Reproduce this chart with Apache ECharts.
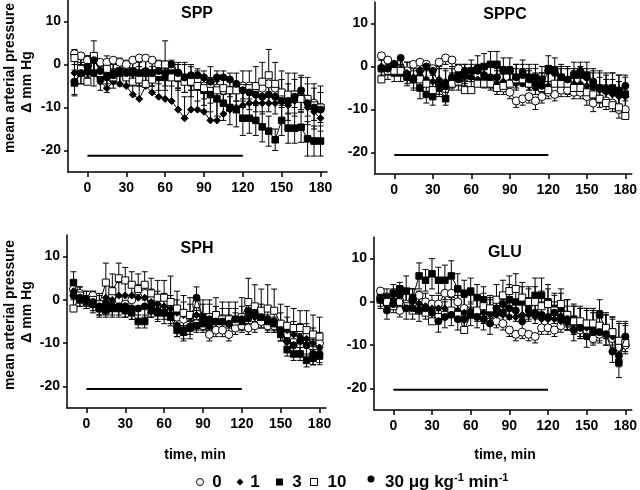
<!DOCTYPE html>
<html><head><meta charset="utf-8">
<script src="https://cdn.jsdelivr.net/npm/echarts@6/dist/echarts.min.js"></script>
<style>html,body{margin:0;padding:0;background:#fff}#c{width:640px;height:490px}</style>
</head><body><div id="c"></div>
<script>
// ---------- data ----------
const times = [-10,-5,0,5,10,15,20,25,30,35,40,45,50,55,60,65,70,75,80,85,90,95,100,105,110,115,120,125,130,135,140,145,150,155,160,165,170,175,180];
const xTicks = [0,30,60,90,120,150,180];
const yTicks = [-20,-10,0,10];
const doses = ['0','1','3','10','30'];
const panelTitles = ['SPP','SPPC','SPH','GLU'];
const infusionStart = 0, infusionEnd = 120;
const infusionLevel = [-21.2,-20.6,-20.6,-20.3];

// SPP
const spp_0 = [2.5,2,1,1.5,0.5,0.5,1,0.5,0,1,1.5,1.5,1,0,0,-1,-2,-3.5,-3,-3.5,-5,-5.5,-5.5,-6,-6,-5.5,-5,-5,-5.5,-5.5,-4.5,-5.5,-7,-8,-7,-7.5,-8.5,-9,-10];
const spp_1 = [-2,-2,-2,-2,-4,-5.5,-4,-4.5,-5,-7,-8,-5,-6.5,-7.5,-8,-8.5,-10.5,-12.5,-10.5,-10.5,-11,-13,-13,-11.5,-10.5,-10,-9.5,-9,-9,-9,-9,-9,-8.5,-9.5,-8.5,-7.5,-10,-11,-12.5];
const spp_3 = [-4.3,-2,-1,-2,-3,-2,-2,-1.5,-2,-1.5,-2,-2,-2,-3,-3,-2,-3,-3,-4,-5,-6,-7,-8,-9,-10,-10.5,-12.5,-12.5,-13,-14.5,-15.5,-17.5,-13,-14.8,-14.8,-14.6,-17.3,-17.8,-17.8];
const spp_10 = [1.5,-1,-4,2,-2,-1,-3,-2,-3,-4,-3.5,-4.5,-3.5,-2,0,-3,-3,-4,-4,-5,-5.5,-4.5,-6,-5.5,-6,-6,-5.5,-5.5,-5,-4,-2.5,-4.5,-6.5,-7,-7,-8,-8,-9.5,-10];
const spp_30 = [-4,-2,-0.5,1,-1.5,-3,-2.5,-2,-2,-2,-2,-1.5,-2,-1.5,-2,0,-2,-3,-2.5,-2.5,-3,-4,-3,-3,-3.5,-4.5,-6,-6.5,-7,-7.5,-7,-7.5,-8.5,-8.5,-7.5,-6,-9,-10,-10.5];
const spp_0_err = [2.5,2,2.5,3,2,2.5,2,3,2.5,2,2,2.5,3,2.5,3,2.5,2,3,3,2.5,3,3.5,3,3,3.5,3,3,3,3.5,3.5,3,3.5,3,3.5,3,3.5,3.5,4,3.5];
const spp_1_err = [3,3.5,4,4,3.5,3.5,4,3.5,4,4.5,4.5,4,4.5,5,5.5,5,5,5,5.5,5,5.5,6,5.5,5,5,5,5,4.5,4.5,4.5,5,5,5,5,5,5,5.5,5.5,6];
const spp_3_err = [3,2.5,3,3,3,2.5,2.5,3,3,3,3,3,3,3,3,3,3,3.5,3.5,3.5,3.5,4,4,4,4,4,4,3.5,3.5,3.5,3.5,2.5,3.5,3.5,3.5,3.5,4,3.5,3.5];
const spp_10_err = [2,3,3,3.5,3,3,3.5,3,3,3,4,3.5,3,3,5.5,3.5,3.5,4,4,4,4,4,4.5,4,4,4,4,4,4.5,4.5,6,5,5,5,5,5,5,5,5];
const spp_30_err = [3,2.5,2.5,3,3,3.5,3,3,3,3,3,3,3,3,3,3.5,3.5,3.5,3.5,3.5,3.5,3.5,3.5,4,4,4,4,4,4,4,4,4,4.5,4.5,4.5,4.5,5,5,5];

// SPPC
const sppc_0 = [2.5,1.5,0.5,-0.5,-1,0.5,1,0.5,-0.5,1,2,1.5,-0.5,-2.5,-1.5,-2,-3.5,-4,-5,-5,-6,-8,-7.5,-7,-8,-7,-6,-6.5,-5.5,-5.5,-6,-6,-7,-8.5,-7.5,-8,-8.5,-10,-10];
const sppc_1 = [0,-1,-1,-0.5,-1.5,-2.5,-2,-3,-3.5,-3,-3.5,-3,-2.5,-2.5,-2.5,-3,-3,-3.5,-4,-3.5,-3.5,-4,-4,-4.5,-5,-5,-4.5,-4,-4,-4,-4,-4,-4.5,-5,-5.5,-6,-6.5,-7,-7];
const sppc_3 = [-0.5,-1,-1.5,-1.5,-2.5,-3,-5,-6.5,-7,-5,-7.5,-3.5,-2,-2,-1,-0.5,0,0.5,0.5,-1,-1,-2.5,-1.5,-2.5,-2.5,-3,-0.5,-1,-2.5,-3.5,-2,-2,-2,-4,-5,-5.5,-5,-6,-6.5];
const sppc_10 = [-3,-1,-1,-1,-2,-3,-3,-4,-5.5,-4,-4.5,-4,-3.5,-5.5,-5.5,-4,-4,-4,-5,-4.5,-4,-3,-3,-4,-4,-5,-5.5,-4,-4,-4,-5,-5,-6,-6.5,-7.5,-8.5,-9,-9.5,-11.5];
const sppc_30 = [-0.5,-0.5,0.5,2,-2,-3,-1,0,-1,-4,-4.5,-2.5,-3,-1,-1,-1,-2,-2.5,-2.5,-1,-1,-2.5,-2,-3,-4,-4.5,-1,-1.5,-2.5,-3,-2,-1,-2.5,-3.5,-5,-5,-5.5,-5.5,-4.5];
const sppc_0_err = [1,1,1,1.5,1.5,1.5,1.5,1.5,1.5,1.5,1.5,1.5,1.5,1.5,1.5,1.5,1.5,1.5,1.5,1.5,1.5,1.5,1.5,1.5,2,1.5,1.5,1.5,1.5,1.5,1.5,1.5,2,2,2,2,2,2,2];
const sppc_1_err = [2,2,2,2.5,2.5,3,3,3,3,3,3,3,3,3,3,3.5,3.5,3.5,3.5,3.5,3.5,3.5,3.5,3.5,3.5,3.5,3.5,3.5,3.5,3.5,3.5,4,4,4,4.5,4.5,5,5,5];
const sppc_3_err = [2,2,2,2,2,2.5,2.5,2,2,2,1.5,2,2.5,2.5,2.5,3,3,3,3,3,3,3,3,3,3,3,3,3,3,3,3,3,3,3.5,3.5,3.5,3.5,4,4];
const sppc_10_err = [2.5,2,2,2.5,3,4,4,4,3.5,3.5,3.5,3.5,3.5,3,3.5,3.5,4,4.5,4,4,3.5,3.5,3.5,3.5,3.5,3.5,4,4,4,4,4,4,4.5,5,5,5.5,6,6,6];
const sppc_30_err = [1.5,1.5,2,2,2,2,2.5,2.5,2.5,2.5,2.5,2.5,2.5,2.5,2.5,2.5,2.5,2.5,2.5,2.5,2.5,2.5,2.5,2.5,2.5,2.5,2.5,3,3,3,3,3,3,3,3,3,3.5,3.5,3.5];

// SPH
const sph_0 = [2.5,1.5,0,1,-2,-1,1,0,-1,0,2,1.5,0,-1.5,-2,-2.5,-4,-4.5,-4,-5.5,-6,-8,-7,-7,-8,-6.5,-6,-6.5,-6,-5,-6,-6,-7,-8,-7.5,-7,-8.5,-10,-10];
const sph_1 = [2,1,0,0,-1,0.5,0,1,1,1,0.5,0.5,-0.5,-1,-1.5,-2,-3,-3.5,-4,-3.5,-4,-4,-4.5,-5,-5,-5,-4.5,-4,-4,-4,-4.5,-5,-6,-7,-8,-8.5,-9,-10,-11];
const sph_3 = [4,0,-0.5,-1,-2,-2.5,-2,-2,-2.5,-3,-5,-5,-2.5,-3,-3,-4,-7,-7.5,-6.5,-6,-5.5,-6,-5,-5,-5,-4.5,-5,-4,-3.5,-4,-5,-5.5,-8,-11.5,-12.5,-12.5,-14,-13.5,-13];
const sph_10 = [-2,1,0,0,-1,4,2,5,4.5,3.5,2.5,3.5,1.5,0.5,0.5,-0.5,-2,-3,-3.5,-1,-4,-4,-3.5,-4.5,-4.5,-5,-4,-0.5,-1.5,-2.5,-2,-2.5,-5.5,-6,-6.5,-6.5,-7,-8,-8.5];
const sph_30 = [1,0.5,0,-0.5,-1.5,-1,-1.5,-1.5,-1.5,-2,-2,-1.5,-1.5,-2.5,-3,-3.5,-6,-7,-6.5,0.5,-4,-4.5,-5,-5,-5.5,-4.5,-4.5,-2.5,-3,-4,-4.5,-5,-7,-9.5,-10.5,-9.5,-10.5,-12.5,-12.5];
const sph_0_err = [1.5,1.5,1.5,1.5,1.5,1.5,1.5,1.5,1.5,1.5,1.5,1.5,1.5,1.5,1.5,1.5,1.5,1.5,1.5,1.5,1.5,1.5,1.5,1.5,1.5,1.5,1.5,1.5,1.5,1.5,1.5,1.5,1.5,1.5,1.5,1.5,1.5,1.5,1.5];
const sph_1_err = [2.5,2,2,2,2.5,3,3,3,3,3,3,3,3,3,3,3,3,3,3,3,3,3,3,3,3,3,3,3,3,3,3,3,3,3,3,3,3.5,3.5,3.5];
const sph_3_err = [2.5,1.5,1.5,1.5,1.5,1.5,1.5,1.5,1.5,1.5,1.5,1.5,1.5,1.5,1.5,1.5,1.5,1.5,1.5,1.5,1.5,1.5,1.5,1.5,1.5,1.5,1.5,1.5,1.5,1.5,1.5,1.5,1.5,1.5,1.5,1.5,1.5,1.5,1.5];
const sph_10_err = [2,2,2,2,2,4.5,4,3.5,3,3,3.5,3,3.5,4,4,6,4,4,4,4,4,4,4,4,4,4.5,4.5,5.5,5,5,5.5,5,4.5,4.5,4.5,4,4.5,4.5,4.5];
const sph_30_err = [2.5,2,2,2.5,2.5,2.5,2.5,2.5,2.5,2.5,2.5,2.5,2.5,2.5,2.5,2.5,2.5,2.5,2.5,3,2.5,2.5,2.5,2.5,2.5,2.5,2.5,2.5,2.5,2.5,2.5,2.5,2.5,2.5,2.5,2.5,2.5,2.5,2.5];

// GLU
const glu_0 = [2.5,1,0,-2,-0.5,0.5,1.5,0,-0.5,-0.5,2,2,0,-1.5,-2,-3,-3.5,-3,-4.5,-5,-6.5,-7.5,-7,-7.5,-8,-6,-6,-6.5,-5.5,-5,-6,-6.5,-7,-8.5,-7.5,-7,-8.5,-10.5,-10];
const glu_1 = [1,-0.5,0.5,0.5,-1,0,-0.5,-1,-1.5,-1.5,-1.5,-2,-2,-2.5,-2,-2,-2.5,-3,-3,-3,-3.5,-3.5,-3,-3,-3.5,-4,-4,-4,-4.5,-5,-5,-5.5,-6,-6.5,-6.5,-7,-8,-9,-9];
const glu_3 = [1,1,2,3,2.5,1,6,5,6.5,5,5,6,3,2,2.5,1,0.5,-2,-2,-2.5,0.5,0,0,-0.5,1.5,1.5,0,-1.5,-1.5,-3,-4,-5,-5,-5.5,-3,-6.5,-7,-14,-8.5];
const glu_10 = [0.5,0,-1,0,-1,-2,-2,-2.5,-4.5,-3.5,-3,-2,-3,-6.5,-3,-2,-1,-1.5,0.5,1.5,2.5,3,1,0,0,-1,-0.5,-2,-0.5,-3,-4.5,-4.5,-5,-5,-5.5,-6,-7,-9,-9.5];
const glu_30 = [0.5,-2,-0.5,1.5,-1.5,-1.5,-2,-1.5,-2.5,-4.5,-3.5,-3,-4,-4,-3,-3.5,-4,-5,-1.5,-0.5,-1.5,-2,-4.5,-2,-2.5,-3,-3.5,-2.5,-3.5,-4,-6.5,-6,-8,-7,-7,-7.5,-11.5,-12.5,-8];
const glu_0_err = [1,1,1.5,1.5,1.5,1.5,1.5,1.5,1.5,1.5,1.5,1.5,1.5,1.5,1.5,1.5,1.5,1.5,1.5,1.5,1.5,1.5,1.5,1.5,1.5,1.5,1.5,1.5,1.5,1.5,1.5,1.5,1.5,1.5,1.5,1.5,1.5,1.5,1.5];
const glu_1_err = [2,2,2.5,3,3,3,3,3,3,3,3,3,3.5,3.5,3.5,3.5,3.5,3.5,3.5,4,4,4,4,4,4,4,4,4,4,4,4,4,4,4,4,4,4,4.5,4.5];
const glu_3_err = [2,2,2,1.5,3.5,2,3,2.5,3.5,3,3.5,3.5,3.5,3,3,3,3,3,3,3,3.5,3.5,3.5,3.5,4,4,4,3.5,3.5,3.5,3.5,3.5,3.5,3.5,3.5,3.5,3.5,3.5,3.5];
const glu_10_err = [2,2,2.5,3,3,3,3,3,3,3,3,3,3,3,3,3,3,3,3.5,3.5,3.5,3.5,3.5,3.5,3.5,3.5,3.5,3.5,3.5,3.5,3.5,3.5,3.5,3.5,3.5,3.5,3.5,4,4];
const glu_30_err = [2,2,2,2.5,2.5,2.5,2.5,2.5,2.5,2.5,2.5,2.5,2.5,2.5,2.5,2.5,2.5,2.5,2.5,2.5,2.5,2.5,2.5,2.5,2.5,2.5,2.5,2.5,2.5,2.5,2.5,2.5,2.5,2.5,2.5,2.5,2.5,2.5,2.5];

const panelMeans = [
  [spp_0, spp_1, spp_3, spp_10, spp_30],
  [sppc_0, sppc_1, sppc_3, sppc_10, sppc_30],
  [sph_0, sph_1, sph_3, sph_10, sph_30],
  [glu_0, glu_1, glu_3, glu_10, glu_30]
];
const panelErrs = [
  [spp_0_err, spp_1_err, spp_3_err, spp_10_err, spp_30_err],
  [sppc_0_err, sppc_1_err, sppc_3_err, sppc_10_err, sppc_30_err],
  [sph_0_err, sph_1_err, sph_3_err, sph_10_err, sph_30_err],
  [glu_0_err, glu_1_err, glu_3_err, glu_10_err, glu_30_err]
];

// ---------- styles ----------
const FONT = 'Liberation Sans, Arial, sans-serif';
const symbolStyle = [
  {symbol:'circle', size:8, fill:'#fff'},
  {symbol:'diamond', size:7, fill:'#000'},
  {symbol:'rect', size:6.5, fill:'#000'},
  {symbol:'rect', size:7, fill:'#fff'},
  {symbol:'circle', size:7, fill:'#000'}
];
const errDir = [-1, 1, 0, 1, -1];
const grids = [
  {left:68, top:0, width:259, height:172},
  {left:375, top:2, width:262, height:172},
  {left:67, top:235, width:259, height:173},
  {left:374, top:237, width:261, height:173}
];

function errRender(dir){
  return function(params, api){
    const x = api.value(0), y = api.value(1), e = api.value(2);
    const lo = dir > 0 ? y : y - e;
    const hi = dir < 0 ? y : y + e;
    const p1 = api.coord([x, lo]), p2 = api.coord([x, hi]);
    const c = 3;
    const st = {stroke:'#000', lineWidth:1};
    const ch = [{type:'line', shape:{x1:p1[0], y1:p1[1], x2:p2[0], y2:p2[1]}, style:st}];
    if (dir >= 0) ch.push({type:'line', shape:{x1:p2[0]-c, y1:p2[1], x2:p2[0]+c, y2:p2[1]}, style:st});
    if (dir <= 0) ch.push({type:'line', shape:{x1:p1[0]-c, y1:p1[1], x2:p1[0]+c, y2:p1[1]}, style:st});
    return {type:'group', children:ch};
  };
}

const xAxes = [], yAxes = [], series = [];
grids.forEach((g, i) => {
  xAxes.push({
    type:'value', gridIndex:i, min:-15, max:185,
    axisLine:{show:true, onZero:false, lineStyle:{color:'#000', width:1.5}},
    axisTick:{show:true, customValues:xTicks, length:5, lineStyle:{color:'#000', width:1.5}},
    axisLabel:{customValues:xTicks, color:'#000', fontFamily:FONT, fontWeight:'bold', fontSize:14, margin:9},
    splitLine:{show:false}
  });
  yAxes.push({
    type:'value', gridIndex:i, min:-25, max:15,
    axisLine:{show:true, onZero:false, lineStyle:{color:'#000', width:1.5}},
    axisTick:{show:true, customValues:yTicks, length:4, lineStyle:{color:'#000', width:1.5}},
    axisLabel:{customValues:yTicks, color:'#000', fontFamily:FONT, fontWeight:'bold', fontSize:14, margin:7},
    splitLine:{show:false}
  });
  // infusion bar
  series.push({
    type:'line', xAxisIndex:i, yAxisIndex:i, silent:true, symbol:'none',
    data:[[infusionStart, infusionLevel[i]], [infusionEnd, infusionLevel[i]]],
    lineStyle:{color:'#000', width:2}, z:1
  });
  panelMeans[i].forEach((arr, k) => {
    const s = symbolStyle[k];
    series.push({
      type:'custom', xAxisIndex:i, yAxisIndex:i, silent:true,
      renderItem: errRender(errDir[k]),
      data: times.map((t, j) => [t, arr[j], panelErrs[i][k][j]]),
      z:2
    });
    series.push({
      name: doses[k], type:'line', xAxisIndex:i, yAxisIndex:i, silent:true,
      data: times.map((t, j) => [t, arr[j]]),
      symbol:s.symbol, symbolSize:s.size, showAllSymbol:true,
      lineStyle:{color:'#000', width:1},
      itemStyle:{color:s.fill, borderColor:'#000', borderWidth:1, opacity:1},
      z:3 + k
    });
  });
});

const titlePos = [[197,14],[505,15],[197,249],[505,253]];
const graphic = [];
panelTitles.forEach((t, i) => {
  graphic.push({type:'text', x:titlePos[i][0], y:titlePos[i][1],
    style:{text:t, font:'bold 16px ' + FONT, fill:'#000', align:'center', verticalAlign:'middle'}});
});
[[78, 10, 'mean arterial pressure'],[82, 27, 'Δ mm Hg'],[315, 10, 'mean arterial pressure'],[312, 27, 'Δ mm Hg']].forEach(a => {
  graphic.push({type:'text', x:a[1], y:a[0], rotation:Math.PI/2,
    style:{text:a[2], font:'bold 14px ' + FONT, fill:'#000', align:'center', verticalAlign:'middle'}});
});
[[195,455],[505,455]].forEach(p => {
  graphic.push({type:'text', x:p[0], y:p[1],
    style:{text:'time, min', font:'bold 14px ' + FONT, fill:'#000', align:'center', verticalAlign:'middle'}});
});
// legend
const LY = 482;
graphic.push({type:'circle', shape:{cx:200, cy:LY, r:3.5}, style:{fill:'#fff', stroke:'#000', lineWidth:1}});
graphic.push({type:'polygon', shape:{points:[[240,LY-3.5],[243.5,LY],[240,LY+3.5],[236.5,LY]]}, style:{fill:'#000'}});
graphic.push({type:'rect', shape:{x:276, y:LY-3.5, width:7, height:7}, style:{fill:'#000'}});
graphic.push({type:'rect', shape:{x:310.5, y:LY-3.5, width:7, height:7}, style:{fill:'#fff', stroke:'#000', lineWidth:1}});
graphic.push({type:'circle', shape:{cx:371, cy:LY-3, r:3.5}, style:{fill:'#000'}});
const legendLabels = [[217,'0'],[255,'1'],[297,'3'],[337,'10']];
legendLabels.forEach(l => graphic.push({type:'text', x:l[0], y:LY,
  style:{text:l[1], font:'bold 17px ' + FONT, fill:'#000', align:'center', verticalAlign:'middle'}}));
graphic.push({type:'text', x:385, y:LY,
  style:{text:'{a|30 μg kg}{s|-1}{a| min}{s|-1}', fill:'#000', align:'left', verticalAlign:'middle',
    rich:{a:{font:'bold 17px ' + FONT, fill:'#000'}, s:{font:'bold 11px ' + FONT, fill:'#000', padding:[0,0,9,0]}}}});

const chart = echarts.init(document.getElementById('c'), null, {renderer:'canvas'});
chart.setOption({
  animation:false,
  backgroundColor:'#fff',
  grid: grids,
  xAxis: xAxes,
  yAxis: yAxes,
  series: series,
  graphic: graphic
});
</script>
</body></html>
